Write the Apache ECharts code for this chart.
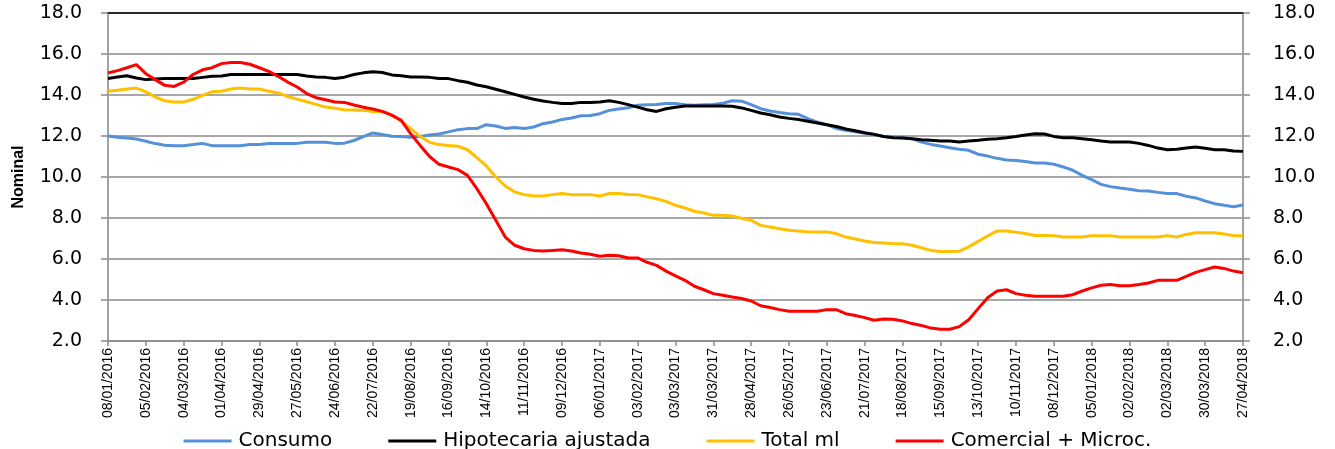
<!DOCTYPE html>
<html>
<head>
<meta charset="utf-8">
<script src="https://cdn.jsdelivr.net/npm/echarts@6/dist/echarts.min.js"></script>
<style>
html,body{margin:0;padding:0;background:#fff;}
#chart{width:1335px;height:449px;}
</style>
</head>
<body>
<div id="chart"></div>
<script>
// Weekly categories from 08/01/2016 to 27/04/2018 (121 weeks)
const startDate = Date.UTC(2016, 0, 8);
const weekCount = 121;
const categories = [];
for (let i = 0; i < weekCount; i++) {
  const d = new Date(startDate + i * 7 * 86400000);
  const dd = String(d.getUTCDate()).padStart(2, '0');
  const mm = String(d.getUTCMonth() + 1).padStart(2, '0');
  categories.push(dd + '/' + mm + '/' + d.getUTCFullYear());
}

const seriesNames = ['Consumo', 'Hipotecaria ajustada', 'Total ml', 'Comercial + Microc.'];

const consumo = [
12.0,11.94,11.9,11.85,11.74,11.63,11.55,11.53,11.53,11.58,
11.64,11.53,11.53,11.53,11.53,11.58,11.58,11.63,11.63,11.63,
11.64,11.69,11.7,11.7,11.64,11.65,11.78,11.97,12.15,12.07,
11.99,11.97,11.94,11.98,12.05,12.1,12.2,12.31,12.36,12.36,
12.55,12.49,12.37,12.42,12.37,12.44,12.6,12.68,12.81,12.88,
12.99,13.0,13.09,13.25,13.32,13.38,13.5,13.53,13.54,13.59,
13.59,13.53,13.5,13.53,13.54,13.6,13.72,13.7,13.53,13.33,
13.22,13.15,13.09,13.06,12.85,12.68,12.55,12.37,12.28,12.21,
12.13,12.08,11.98,11.95,11.92,11.87,11.7,11.59,11.51,11.43,
11.35,11.3,11.11,11.02,10.91,10.83,10.81,10.76,10.68,10.68,
10.62,10.49,10.33,10.08,9.87,9.64,9.53,9.46,9.4,9.33,
9.32,9.25,9.19,9.19,9.06,8.98,8.83,8.7,8.62,8.55,
8.63
];

const hipotecaria = [
14.8,14.88,14.94,14.83,14.75,14.78,14.8,14.8,14.8,14.8,
14.86,14.91,14.93,15.0,15.0,15.0,15.0,15.0,15.0,15.0,
15.0,14.93,14.88,14.86,14.81,14.87,15.0,15.08,15.13,15.1,
14.98,14.94,14.88,14.88,14.86,14.81,14.8,14.7,14.62,14.49,
14.4,14.28,14.16,14.03,13.9,13.79,13.71,13.64,13.58,13.58,
13.64,13.64,13.66,13.72,13.64,13.53,13.41,13.28,13.2,13.33,
13.4,13.46,13.46,13.46,13.46,13.46,13.45,13.37,13.25,13.12,
13.04,12.93,12.86,12.8,12.72,12.63,12.55,12.46,12.34,12.26,
12.16,12.08,11.98,11.92,11.9,11.87,11.82,11.79,11.76,11.76,
11.71,11.76,11.79,11.84,11.87,11.92,11.98,12.05,12.11,12.1,
11.98,11.92,11.92,11.87,11.82,11.76,11.71,11.71,11.71,11.64,
11.54,11.41,11.33,11.35,11.41,11.46,11.4,11.33,11.33,11.27,
11.25
];

const totalMl = [
14.18,14.23,14.29,14.34,14.15,13.9,13.72,13.66,13.66,13.79,
13.98,14.16,14.18,14.29,14.34,14.29,14.29,14.18,14.1,13.93,
13.8,13.67,13.54,13.41,13.35,13.28,13.27,13.25,13.2,13.19,
13.02,12.73,12.36,11.98,11.69,11.58,11.54,11.5,11.33,10.94,
10.54,10.0,9.56,9.27,9.14,9.07,9.07,9.14,9.2,9.14,
9.14,9.14,9.07,9.2,9.2,9.15,9.14,9.03,8.94,8.81,
8.62,8.49,8.33,8.24,8.13,8.13,8.1,7.98,7.89,7.64,
7.56,7.48,7.4,7.37,7.32,7.32,7.32,7.24,7.07,6.98,
6.88,6.8,6.78,6.75,6.75,6.67,6.55,6.42,6.37,6.36,
6.38,6.59,6.86,7.12,7.37,7.37,7.3,7.24,7.15,7.15,
7.14,7.07,7.07,7.07,7.14,7.14,7.14,7.07,7.07,7.07,
7.07,7.07,7.14,7.07,7.2,7.28,7.28,7.28,7.22,7.14,
7.14
];

const comercial = [
15.07,15.19,15.33,15.48,15.04,14.75,14.47,14.42,14.63,15.0,
15.23,15.33,15.53,15.59,15.59,15.5,15.33,15.15,14.91,14.63,
14.39,14.07,13.87,13.77,13.66,13.64,13.51,13.4,13.32,13.2,
13.02,12.76,12.11,11.54,11.0,10.62,10.49,10.36,10.08,9.43,
8.7,7.89,7.07,6.67,6.5,6.42,6.39,6.42,6.45,6.39,
6.29,6.23,6.13,6.18,6.16,6.05,6.05,5.84,5.69,5.41,
5.18,4.96,4.67,4.5,4.31,4.23,4.15,4.07,3.95,3.72,
3.63,3.53,3.45,3.45,3.45,3.45,3.53,3.53,3.33,3.24,
3.14,3.01,3.07,3.06,2.98,2.85,2.76,2.63,2.57,2.57,
2.7,3.04,3.58,4.11,4.44,4.5,4.31,4.23,4.18,4.18,
4.18,4.18,4.26,4.44,4.59,4.72,4.76,4.7,4.7,4.76,
4.83,4.96,4.96,4.96,5.15,5.35,5.48,5.61,5.54,5.41,
5.33
];

const colors = ['#5590D9', '#000000', '#FFC000', '#FF0000'];
const seriesData = [consumo, hipotecaria, totalMl, comercial];

const FONT = 'DejaVu Sans';
const GRID_GRAY = '#8a8a8a';
const AXIS_GRAY = '#a3a3a3';

const chart = echarts.init(document.getElementById('chart'), null, {renderer: 'canvas'});

function makeYAxis(pos, margin) {
  return {
    type: 'value', min: 2, max: 18, interval: 2,
    position: pos,
    axisLabel: {formatter: v => v.toFixed(1), fontFamily: FONT, fontSize: 19, color: '#000', margin: margin},
    axisTick: {show: true, length: 7, lineStyle: {color: GRID_GRAY, width: 1.5}},
    axisLine: {show: true, onZero: false, lineStyle: {color: AXIS_GRAY, width: 2}}
  };
}

const yLeft = makeYAxis('left', 26);
yLeft.name = 'Nominal';
yLeft.nameLocation = 'middle';
yLeft.nameGap = 81;
yLeft.nameRotate = 90;
yLeft.nameTextStyle = {fontFamily: 'Liberation Sans', fontWeight: 'bold', fontSize: 16, color: '#000'};
yLeft.splitLine = {show: true, lineStyle: {color: GRID_GRAY, width: 1.5}};
const yRight = makeYAxis('right', 30);
yRight.splitLine = {show: false};

chart.setOption({
  animation: false,
  backgroundColor: '#fff',
  grid: {left: 108, right: 92, top: 13, bottom: 108, containLabel: false},
  legend: {
    data: seriesNames,
    left: 'center',
    top: 426,
    itemWidth: 48,
    itemHeight: 3,
    itemGap: 56,
    icon: 'rect',
    textStyle: {fontFamily: FONT, fontSize: 20, color: '#000', padding: [0, 0, 0, 2]}
  },
  xAxis: [{
    type: 'category',
    data: categories,
    boundaryGap: false,
    axisLine: {onZero: false, lineStyle: {color: GRID_GRAY, width: 1.5}},
    axisTick: {interval: 3, length: 5, lineStyle: {color: GRID_GRAY, width: 1.5}},
    axisLabel: {interval: 3, rotate: 90, margin: 7, fontFamily: 'Liberation Sans', fontSize: 14, color: '#000'},
    splitLine: {show: false}
  }, {
    type: 'category',
    data: categories,
    position: 'top',
    boundaryGap: false,
    axisLine: {onZero: false, lineStyle: {color: '#000', width: 1.5}},
    axisTick: {show: false},
    axisLabel: {show: false},
    splitLine: {show: false}
  }],
  yAxis: [yLeft, yRight],
  series: seriesNames.map((name, k) => ({
    name: name,
    type: 'line',
    data: seriesData[k],
    xAxisIndex: 0,
    yAxisIndex: 0,
    showSymbol: false,
    symbol: 'none',
    color: colors[k],
    lineStyle: {width: 3, color: colors[k]},
    z: 2 + k
  }))
});
</script>
</body>
</html>
